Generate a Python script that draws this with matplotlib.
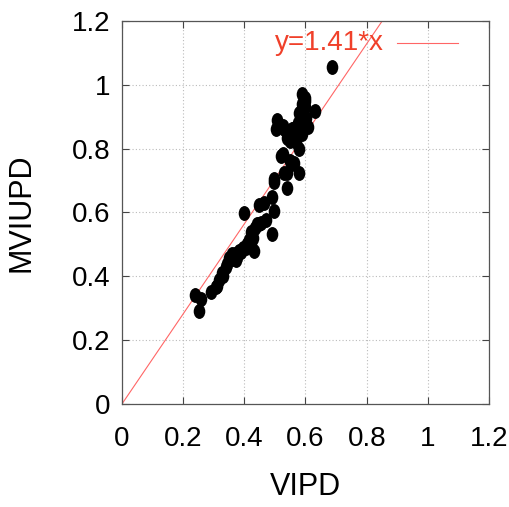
"""
Scatter of MVIUPD against VIPD with the y = 1.41 x reference line.
"""

import numpy as np
import matplotlib
matplotlib.use('Agg')
import matplotlib.pyplot as plt
from matplotlib.path import Path
from matplotlib.transforms import Affine2D

plt.rcParams['font.family'] = ['Liberation Sans Narrow', 'Liberation Sans', 'DejaVu Sans']

# measured pairs (VIPD, MVIUPD)
vipd = [
    0.239, 0.259, 0.252, 0.292, 0.308, 0.318, 0.328, 0.341, 0.351, 0.361,
    0.377, 0.390, 0.407, 0.423, 0.433, 0.423, 0.443, 0.489, 0.472, 0.400,
    0.449, 0.466, 0.489, 0.498, 0.538, 0.449, 0.384, 0.370, 0.357, 0.374,
    0.498, 0.538, 0.580, 0.456, 0.435, 0.345, 0.365, 0.395, 0.410, 0.415,
    0.430, 0.310, 0.330,
    0.597, 0.587, 0.580, 0.630, 0.603, 0.508, 0.505, 0.525, 0.557, 0.587,
    0.607, 0.564, 0.548, 0.538, 0.590, 0.521, 0.548, 0.564, 0.580, 0.531,
    0.498, 0.590, 0.688, 0.525, 0.557, 0.590, 0.560, 0.575, 0.600, 0.570,
    0.550, 0.530, 0.600,
]
mviupd = [
    0.341, 0.328, 0.290, 0.350, 0.366, 0.388, 0.410, 0.430, 0.456, 0.470,
    0.460, 0.475, 0.490, 0.503, 0.480, 0.540, 0.565, 0.534, 0.575, 0.597,
    0.622, 0.631, 0.647, 0.606, 0.678, 0.565, 0.480, 0.470, 0.460, 0.450,
    0.694, 0.722, 0.725, 0.566, 0.550, 0.440, 0.455, 0.490, 0.500, 0.515,
    0.520, 0.370, 0.400,
    0.959, 0.940, 0.912, 0.919, 0.897, 0.888, 0.862, 0.872, 0.862, 0.878,
    0.866, 0.834, 0.825, 0.834, 0.847, 0.778, 0.762, 0.756, 0.800, 0.722,
    0.706, 0.972, 1.056, 0.784, 0.753, 0.925, 0.860, 0.880, 0.930, 0.820,
    0.850, 0.860, 0.950,
]
slope = 1.41
ticks = [0, 0.2, 0.4, 0.6, 0.8, 1, 1.2]
tick_labels = ['0', '0.2', '0.4', '0.6', '0.8', '1', '1.2']

fig = plt.figure(figsize=(5.10, 5.07), dpi=100)
ax = fig.add_axes([0.239, 0.203, 0.72, 0.756])

# slightly tall elliptical dots
ellipse = Path.unit_circle().transformed(Affine2D().scale(0.78, 1.0))
ax.scatter(vipd, mviupd, marker=ellipse, s=115, color='black', linewidths=0, zorder=3)

xs = np.array([0.0, 1.2])
ax.plot(xs, slope * xs, color='#ff6666', linewidth=0.8, zorder=2)

ax.set_xlim(0, 1.2)
ax.set_ylim(0, 1.2)
ax.set_xticks(ticks)
ax.set_yticks(ticks)
ax.set_xticklabels(tick_labels)
ax.set_yticklabels(tick_labels)
ax.tick_params(direction='in', length=5, width=0.8, color='#444444',
               top=True, right=True, labelsize=20, pad=8)
ax.tick_params(axis='x', pad=16)
ax.grid(True, color='#bbbbbb', linestyle=(0, (1, 2)), linewidth=0.8)
for sp in ax.spines.values():
    sp.set_color('#555555')
    sp.set_linewidth(0.9)

ax.set_xlabel('VIPD', fontsize=22, labelpad=14)
ax.set_ylabel('MVIUPD', fontsize=22, labelpad=26)

# key in the upper right
ax.text(0.856, 1.13, 'y=1.41*x', color='#f0402a', fontsize=20,
        ha='right', va='center')
ax.plot([0.90, 1.10], [1.13, 1.13], color='#ff6666', linewidth=0.8)

fig.savefig('out.png', dpi=100)
